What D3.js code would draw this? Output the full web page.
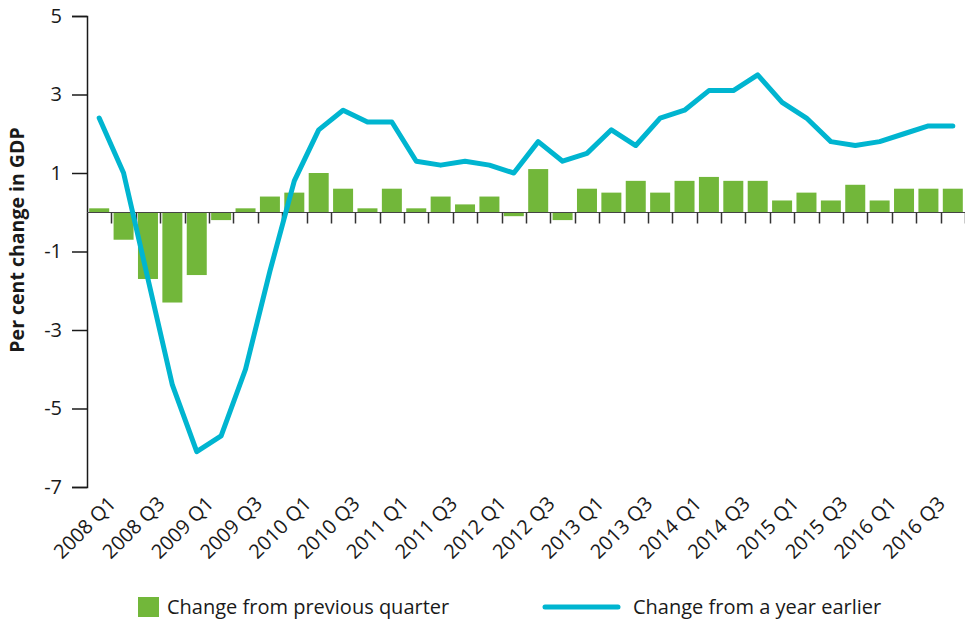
<!DOCTYPE html>
<html>
<head>
<meta charset="utf-8">
<script src="https://d3js.org/d3.v7.min.js"></script>
<style>
  * { margin: 0; padding: 0; }
  html, body { width: 965px; height: 622px; background: #fff; overflow: hidden; }
  svg text { font-family: 'Open Sans', 'Noto Sans', sans-serif; fill: #1a1a1a; }
</style>
</head>
<body>
<div id="chart"></div>
<script>
// quarters shown on the x axis
const quarters = [
  '2008 Q1','2008 Q2','2008 Q3','2008 Q4','2009 Q1','2009 Q2','2009 Q3','2009 Q4',
  '2010 Q1','2010 Q2','2010 Q3','2010 Q4','2011 Q1','2011 Q2','2011 Q3','2011 Q4',
  '2012 Q1','2012 Q2','2012 Q3','2012 Q4','2013 Q1','2013 Q2','2013 Q3','2013 Q4',
  '2014 Q1','2014 Q2','2014 Q3','2014 Q4','2015 Q1','2015 Q2','2015 Q3','2015 Q4',
  '2016 Q1','2016 Q2','2016 Q3','2016 Q4'
];
// change from previous quarter (bars)
const fromPrevQuarter = [
  0.1, -0.7, -1.7, -2.3, -1.6, -0.2, 0.1, 0.4, 0.5, 1.0,
  0.6, 0.1, 0.6, 0.1, 0.4, 0.2, 0.4, -0.1, 1.1, -0.2, 0.6, 0.5,
  0.8, 0.5, 0.8, 0.9, 0.8, 0.8, 0.3, 0.5, 0.3, 0.7, 0.3, 0.6, 0.6, 0.6
];
// change from a year earlier (line)
const fromYearEarlier = [
  2.4, 1.0, -1.7, -4.4, -6.1, -5.7, -4.0, -1.5, 0.8, 2.1,
  2.6, 2.3, 2.3, 1.3, 1.2, 1.3, 1.2, 1.0, 1.8, 1.3, 1.5, 2.1,
  1.7, 2.4, 2.6, 3.1, 3.1, 3.5, 2.8, 2.4, 1.8, 1.7, 1.8, 2.0, 2.2, 2.2
];
const yTicks = [5, 3, 1, -1, -3, -5, -7];
const legendLabels = ['Change from previous quarter', 'Change from a year earlier'];

const barColor = '#72b73a';
const lineColor = '#00b5d0';

const width = 965, height = 622;
const plotLeft = 87, plotRight = 965, plotTop = 16, plotBottom = 487;

const svg = d3.select('#chart').append('svg')
  .attr('width', width).attr('height', height);

const x = d3.scaleBand()
  .domain(quarters)
  .range([plotLeft, plotRight])
  .paddingInner(0.18)
  .paddingOuter(0.09);

const y = d3.scaleLinear().domain([-7, 5]).range([plotBottom, plotTop]);

const center = q => x(q) + x.bandwidth() / 2;

// bars
svg.append('g').selectAll('rect')
  .data(quarters.map((q, i) => ({ q, v: fromPrevQuarter[i] })))
  .join('rect')
  .attr('x', d => x(d.q))
  .attr('width', x.bandwidth())
  .attr('y', d => y(Math.max(0, d.v)))
  .attr('height', d => Math.abs(y(d.v) - y(0)))
  .attr('fill', barColor);

// y axis
const yAxis = svg.append('g')
  .attr('transform', `translate(${plotLeft},0)`)
  .call(d3.axisLeft(y).tickValues(yTicks).tickSize(15).tickPadding(10).tickFormat(d => String(d)));
yAxis.select('.domain').attr('stroke', '#1a1a1a').attr('stroke-width', 1.5);
yAxis.selectAll('.tick line').attr('stroke', '#1a1a1a').attr('stroke-width', 1.5);
yAxis.selectAll('.tick text')
  .style('font-size', '20px')
  .style('font-family', "'Open Sans', sans-serif")
  .attr('fill', '#1a1a1a');

// x axis at zero, ticks on band boundaries
const zeroY = Math.round(y(0)) + 0.5;
const step = x.step();
const boundaries = quarters.map(q => x(q) - step * x.paddingInner() / 2 + step);
const xAxis = svg.append('g');
xAxis.append('line')
  .attr('x1', plotLeft).attr('x2', plotRight)
  .attr('y1', zeroY).attr('y2', zeroY)
  .attr('stroke', '#444').attr('stroke-width', 1);
xAxis.selectAll('.xtick')
  .data(boundaries)
  .join('line')
  .attr('class', 'xtick')
  .attr('x1', d => Math.round(d) + 0.5).attr('x2', d => Math.round(d) + 0.5)
  .attr('y1', zeroY).attr('y2', zeroY + 11)
  .attr('stroke', '#333').attr('stroke-width', 1.5);

// rotated quarter labels, every other one
svg.append('g').selectAll('text')
  .data(quarters.filter((q, i) => i % 2 === 0))
  .join('text')
  .attr('transform', q => `translate(${center(q) + 18},${plotBottom + 18}) rotate(-45)`)
  .attr('text-anchor', 'end')
  .style('font-size', '20px')
  .text(q => q);

// year-on-year line
const line = d3.line()
  .x((v, i) => center(quarters[i]))
  .y(v => y(v));

svg.append('path')
  .datum(fromYearEarlier)
  .attr('d', line)
  .attr('fill', 'none')
  .attr('stroke', lineColor)
  .attr('stroke-width', 5)
  .attr('stroke-linejoin', 'round')
  .attr('stroke-linecap', 'round');

// y axis title
svg.append('text')
  .attr('transform', 'translate(24,240) rotate(-90)')
  .attr('text-anchor', 'middle')
  .style('font-size', '19.5px')
  .style('font-weight', 'bold')
  .text('Per cent change in GDP');

// legend
const legend = svg.append('g');
legend.append('rect')
  .attr('x', 138).attr('y', 597).attr('width', 21).attr('height', 20)
  .attr('fill', barColor);
legend.append('text')
  .attr('x', 167).attr('y', 614)
  .style('font-size', '20px')
  .text(legendLabels[0]);
legend.append('line')
  .attr('x1', 545).attr('x2', 618).attr('y1', 607).attr('y2', 607)
  .attr('stroke', lineColor).attr('stroke-width', 5).attr('stroke-linecap', 'round');
legend.append('text')
  .attr('x', 633).attr('y', 614)
  .style('font-size', '20px')
  .text(legendLabels[1]);
</script>
</body>
</html>
